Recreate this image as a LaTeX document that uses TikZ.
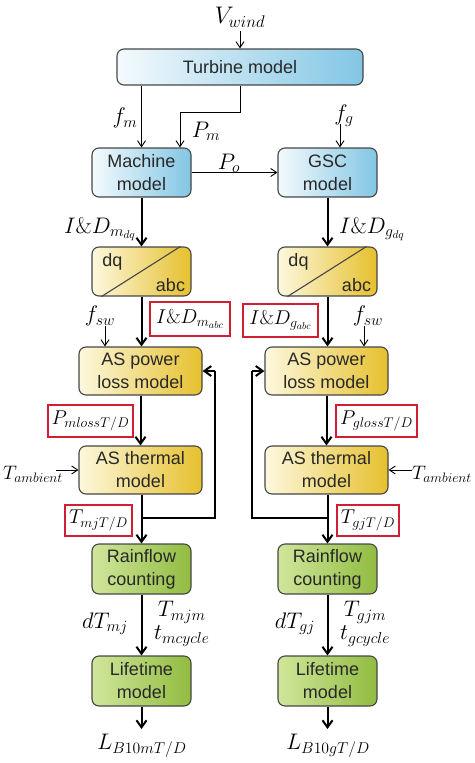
\RequirePackage{fix-cm}
\documentclass[tikz,border=0pt]{standalone}
\usepackage{fontspec}
\setsansfont{Liberation Sans}
\usetikzlibrary{arrows.meta,calc}
\definecolor{bL}{RGB}{244,250,253}
\definecolor{bM}{RGB}{212,235,247}
\definecolor{bR}{RGB}{130,198,228}
\definecolor{yL}{RGB}{253,248,222}
\definecolor{yM}{RGB}{247,230,150}
\definecolor{yR}{RGB}{230,192,45}
\definecolor{gL}{RGB}{208,230,155}
\definecolor{gM}{RGB}{182,213,112}
\definecolor{gR}{RGB}{145,188,65}
\definecolor{bord}{RGB}{70,70,70}
\definecolor{txt}{RGB}{40,40,40}
\definecolor{redb}{RGB}{208,30,50}
\begin{document}
\begin{tikzpicture}[x=1pt,y=-1pt,
  box/.style={draw=bord, line width=1.1pt, rounded corners=7pt, text=txt,
    font=\sffamily\fontsize{18}{23}\selectfont, align=center, inner sep=1pt,
    minimum width=99pt, minimum height=49pt},
  bluebox/.style={box, left color=bL, middle color=bM, right color=bR},
  yelbox/.style={box, left color=yL, middle color=yM, right color=yR},
  grnbox/.style={box, left color=gL, middle color=gM, right color=gR},
  widebox/.style={minimum width=123pt, minimum height=48pt},
  thk/.style={line width=2pt, -{Straight Barb[length=7pt,width=10pt]}},
  thn/.style={line width=0.9pt, -{Straight Barb[length=6pt,width=8pt]}},
  lab/.style={font=\fontsize{22.5}{26}\selectfont, inner sep=0pt},
  redbox/.style={lab, font=\fontsize{20}{24}\selectfont, draw=redb, line width=1.6pt}
]
\useasboundingbox (0,0) rectangle (474,763);

% boxes
\node[bluebox, minimum width=246pt, minimum height=36pt] (turb) at (240,67) {Turbine model};
\node[bluebox] (mach) at (141.5,172.5) {Machine\\model};
\node[bluebox] (gsc) at (327.5,172.5) {GSC\\model};
\node[yelbox] (dqL) at (141.5,271.5) {};
\node[yelbox] (dqR) at (327.5,271.5) {};
\node[yelbox, widebox] (plL) at (140.5,371) {AS power\\loss model};
\node[yelbox, widebox] (plR) at (326.5,371) {AS power\\loss model};
\node[yelbox, widebox] (thL) at (140.5,470) {AS thermal\\model};
\node[yelbox, widebox] (thR) at (326.5,470) {AS thermal\\model};
\node[grnbox, minimum height=50pt] (rfL) at (141.5,569) {Rainflow\\counting};
\node[grnbox, minimum height=50pt] (rfR) at (327.5,569) {Rainflow\\counting};
\node[grnbox, minimum height=50pt] (ltL) at (141.5,681) {Lifetime\\model};
\node[grnbox, minimum height=50pt] (ltR) at (327.5,681) {Lifetime\\model};

% dq/abc contents
\foreach \b in {dqL,dqR}{
  \draw[line width=1.1pt, bord] ($(\b.south west)+(10,0)$) -- ($(\b.north east)+(-11,0)$);
  \node[font=\sffamily\fontsize{18}{22}\selectfont, text=txt, inner sep=0pt] (\b dq) at ($(\b.center)+(-29,-10)$) {dq};
  \node[font=\sffamily\fontsize{18}{22}\selectfont, text=txt, inner sep=0pt] (\b abc) at ($(\b.center)+(29,14)$) {abc};
}

% labels
\node[lab, font=\fontsize{24}{28}\selectfont] (vw) at (240,17) {$V_{wind}$};
\coordinate (vwE) at (240,31);
\node[lab] (fm) at (125,118) {$f_m$};
\node[lab] (pm) at (206,131) {$P_m$};
\node[lab] (fg) at (344,116) {$f_g$};
\coordinate (fgS) at (340,124);
\node[lab] (po) at (229,163) {$P_o$};
\node[lab] (idmdq) at (100,229) {$I\&D_{m_{dq}}$};
\node[lab] (idgdq) at (372,229) {$I\&D_{g_{dq}}$};
\node[redbox, minimum width=80pt, minimum height=34pt] (idmabc) at (190,319) {$I\&D_{m_{abc}}$};
\node[redbox, minimum width=75pt, minimum height=33pt] (idgabc) at (280.5,320.5) {$I\&D_{g_{abc}}$};
\node[lab] (fswL) at (100,316) {$f_{sw}$};
\node[lab] (fswR) at (368,316) {$f_{sw}$};
\coordinate (fswLS) at (105,326);
\coordinate (fswRS) at (364,326);
\node[redbox, minimum width=85pt, minimum height=32pt] (pml) at (90.5,421) {$P_{mlossT/D}$};
\node[redbox, minimum width=81pt, minimum height=32pt] (pgl) at (376.5,421) {$P_{glossT/D}$};
\node[lab, font=\fontsize{19.5}{24}\selectfont] (tamL) at (33,474) {$T_{ambient}$};
\node[lab, font=\fontsize{19.5}{24}\selectfont] (tamR) at (442,474) {$T_{ambient}$};
\coordinate (tamLS) at (56,470);
\coordinate (tamRS) at (412,470);
\node[redbox, minimum width=67pt, minimum height=31pt] (tmj) at (98.5,520.5) {$T_{mjT/D}$};
\node[redbox, minimum width=62pt, minimum height=31pt] (tgj) at (368,520.5) {$T_{gjT/D}$};
\node[lab] (dtm) at (105,624) {$dT_{mj}$};
\node[lab, align=left, anchor=west] (tmjm) at (154,624) {$\,T_{mjm}$\\[-3pt]$t_{mcycle}$};
\node[lab] (dtg) at (295,624) {$dT_{gj}$};
\node[lab, align=left, anchor=west] (tgjm) at (340,624) {$\,T_{gjm}$\\[-3pt]$t_{gcycle}$};
\node[lab] (lbm) at (142,746) {$L_{B10mT/D}$};
\node[lab] (lbg) at (328,746) {$L_{B10gT/D}$};
\coordinate (lbmN) at (141.5,729);
\coordinate (lbgN) at (327.5,729);

% thin connectors
\draw[thn] (vwE) -- (turb.north);
\draw[thn] (mach.north |- turb.south) -- (mach.north);
\draw[thn] (turb.south) -- ++(0,27) -| ($(mach.north)+(38.5,0)$);
\draw[thn] (fgS) -- ($(gsc.north)+(12.5,0)$);
\draw[thn] (mach.east) -- (gsc.west);
\draw[thn] (fswLS) -- (fswLS |- plL.north);
\draw[thn] (fswRS) -- (fswRS |- plR.north);
\draw[thn] (tamLS) -- (thL.west);
\draw[thn] (tamRS) -- (thR.west -| thR.east);

% thick connectors
\draw[thk] (mach) -- (dqL);
\draw[thk] (gsc) -- (dqR);
\draw[thk] (dqL.south) -- (dqL.south |- plL.north);
\draw[thk] (dqR.south) -- (dqR.south |- plR.north);
\draw[thk] (plL) -- (thL);
\draw[thk] (plR) -- (thR);
\draw[thk] (thL.south -| rfL.north) -- (rfL.north);
\draw[thk] (thR.south -| rfR.north) -- (rfR.north);
\draw[thk] (rfL) -- (ltL);
\draw[thk] (rfR) -- (ltR);
\draw[thk] (ltL) -- (lbmN);
\draw[thk] (ltR) -- (lbgN);

% feedback loops
\coordinate (jL) at (141.5,518);
\coordinate (jR) at (327.5,518);
\coordinate (fbL) at (215,371);
\coordinate (fbR) at (252,371);
\draw[line width=2pt] (jL) -| (fbL);
\draw[thk] (fbL) -- (plL.east);
\draw[line width=2pt] (jR) -| (fbR);
\draw[thk] (fbR) -- (plR.west);
\end{tikzpicture}
\end{document}
